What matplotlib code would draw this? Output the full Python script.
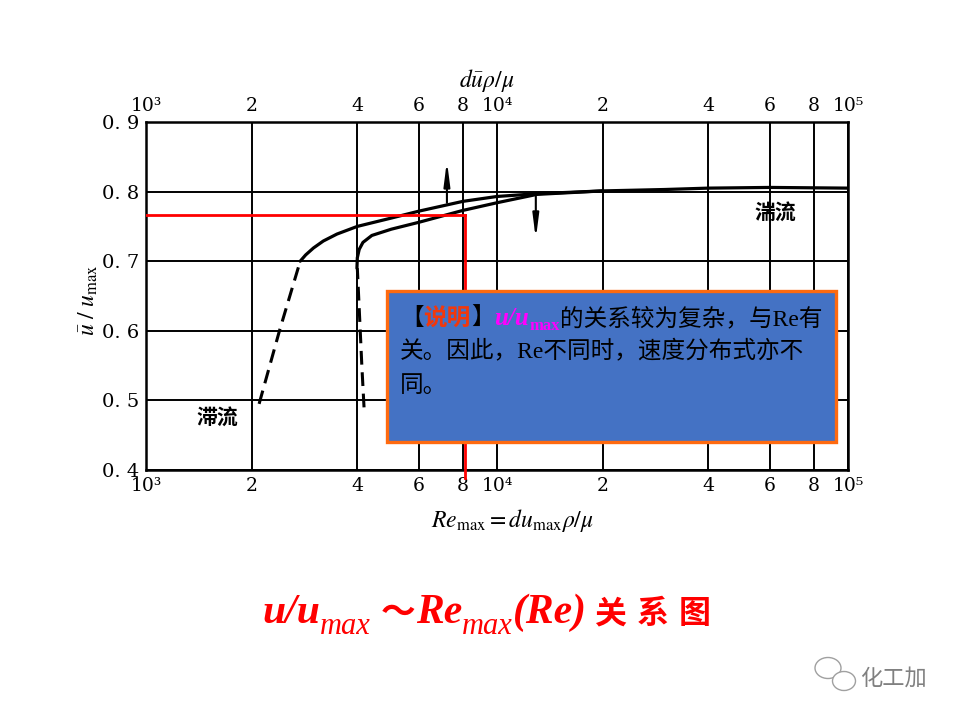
import matplotlib
matplotlib.use('Agg')
import matplotlib.pyplot as plt
from matplotlib.patches import Rectangle, Ellipse
from matplotlib.ticker import NullLocator

plt.rcParams['mathtext.fontset'] = 'stix'

# grid / tick data
re_grid = [1e3, 2e3, 4e3, 6e3, 8e3, 1e4, 2e4, 4e4, 6e4, 8e4, 1e5]
re_labels = ['10³', '2', '4', '6', '8', '10⁴', '2', '4', '6', '8', '10⁵']
u_grid = [0.4, 0.5, 0.6, 0.7, 0.8, 0.9]
u_labels = ['0. 4', '0. 5', '0. 6', '0. 7', '0. 8', '0. 9']

# left curve (dashed laminar part + solid part)
a_dash_re = [2.1e3, 2.4e3, 2.75e3]
a_dash_u = [0.495, 0.60, 0.70]
a_re = [2.75e3, 2.85e3, 3.0e3, 3.2e3, 3.5e3, 4e3, 5e3, 6e3, 8e3, 1e4, 1.3e4,
        2e4, 3e4, 4e4, 6e4, 1e5]
a_u = [0.700, 0.709, 0.719, 0.729, 0.739, 0.750, 0.762, 0.772, 0.786, 0.793,
       0.797, 0.801, 0.803, 0.805, 0.806, 0.805]

# right curve
b_dash_re = [4.18e3, 4.12e3, 4.06e3, 4.0e3]
b_dash_u = [0.49, 0.55, 0.62, 0.69]
b_re = [3.99e3, 4.0e3, 4.05e3, 4.15e3, 4.4e3, 5e3, 6e3, 8e3, 1e4, 1.3e4, 2e4]
b_u = [0.690, 0.705, 0.717, 0.727, 0.737, 0.746, 0.756, 0.773, 0.784, 0.796, 0.801]

# arrows: (x, y_start, y_end)
arrow_up = (7.2e3, 0.780, 0.848)
arrow_down = (1.29e4, 0.797, 0.728)

# red guide
red_re = 8.1e3
red_u = 0.766

W, H = 960, 720
fig = plt.figure(figsize=(9.6, 7.2), dpi=100)
ax = fig.add_axes([146 / W, 1 - 470 / H, 702 / W, 348 / H])
ax.set_xscale('log')
ax.set_xlim(1e3, 1e5)
ax.set_ylim(0.4, 0.9)

ax.set_xticks(re_grid)
ax.set_xticklabels(re_labels, fontfamily='DejaVu Serif', fontsize=13.5)
ax.xaxis.set_minor_locator(NullLocator())
ax.set_yticks(u_grid)
ax.set_yticklabels(u_labels, fontfamily='DejaVu Serif', fontsize=14)
ax.tick_params(axis='x', length=0, pad=5, top=True, labeltop=True)
ax.tick_params(axis='y', length=0, pad=5)
ax.grid(True, which='major', color='black', lw=1.4)
for s in ax.spines.values():
    s.set_linewidth(1.8)

ax.plot(a_dash_re, a_dash_u, color='black', lw=2.2, dashes=(4.5, 2.5))
ax.plot(a_re, a_u, color='black', lw=2.3, solid_capstyle='round')
ax.plot(b_dash_re, b_dash_u, color='black', lw=2.2, dashes=(4.5, 2.5))
ax.plot(b_re, b_u, color='black', lw=2.3, solid_capstyle='round')

for x, y0, y1 in [arrow_up, arrow_down]:
    ax.annotate('', xy=(x, y1), xytext=(x, y0),
                arrowprops=dict(arrowstyle='-|>,head_length=1.4,head_width=0.18',
                                color='black', lw=1.5))

ax.text(1.6e3, 0.476, '滞流', fontfamily='Noto Sans CJK SC', fontweight='bold',
        fontsize=15, ha='center', va='center')
ax.text(6.2e4, 0.770, '湍流', fontfamily='Noto Sans CJK SC', fontweight='bold',
        fontsize=15, ha='center', va='center')

ax.plot([1e3, red_re], [red_u, red_u], color='red', lw=2, zorder=4)
ax.plot([red_re, red_re], [red_u, 0.388], color='red', lw=2, zorder=4, clip_on=False)

# axis labels
fig.text(88 / W, 1 - 300 / H, r'$\bar{u}\ /\ u_{\rm max}$', rotation=90,
         ha='center', va='center', fontsize=17)
fig.text(487 / W, 1 - 80 / H, r'$d\bar{u}\rho/\mu$', ha='center', va='center',
         fontsize=17)
fig.text(512 / W, 1 - 520 / H, r'$Re_{\rm max}=du_{\rm max}\rho/\mu$',
         ha='center', va='center', fontsize=17)

# note box
box = Rectangle((387 / W, 1 - 442 / H), 449 / W, 151 / H, transform=fig.transFigure,
                facecolor='#4472C4', edgecolor='#FF6A0F', lw=2.4, zorder=5)
fig.add_artist(box)

renderer = fig.canvas.get_renderer()


def put_line(x0, y0, pieces):
    x = x0
    for s, dy, kw in pieces:
        t = fig.text(x / W, 1 - (y0 + dy) / H, s, ha='left', va='baseline',
                     zorder=6, **kw)
        x += t.get_window_extent(renderer).width
    return x


mix = ['Liberation Serif', 'Noto Sans CJK SC']
cjk = dict(family=mix, fontsize=17, color='black')
put_line(400, 325, [
    ('【', 0, cjk),
    ('说明', 0, dict(family='Noto Sans CJK SC', fontsize=17, color='#F2380C',
                   fontweight='bold')),
    ('】', 0, cjk),
    ('u/u', 0, dict(family='Liberation Serif', fontsize=18, color='#FF00FF',
                    fontweight='bold', style='italic')),
    ('max', 5, dict(family='Liberation Serif', fontsize=12, color='#FF00FF',
                    fontweight='bold')),
    ('的关系较为复杂，与Re有', 0, cjk),
])
put_line(400, 358, [('关。因此，Re不同时，速度分布式亦不', 0, cjk)])
put_line(400, 392, [('同。', 0, cjk)])

# title
ser = dict(family='Liberation Serif', fontsize=30, color='red', fontweight='bold',
           style='italic')
sub = dict(family='Liberation Serif', fontsize=22, color='red', style='italic')
han = dict(family='Noto Sans CJK SC', fontsize=23, color='red', fontweight='bold')
put_line(262, 623, [
    ('u/u', 0, ser),
    ('max', 11, sub),
    (' ', 0, ser),
    ('～', 0, dict(family='Noto Sans CJK SC', fontsize=25, color='red',
                  fontweight='bold')),
    ('Re', 0, ser),
    ('max', 11, sub),
    ('(Re)', 0, ser),
    (' ', 0, sub),
    ('关', 0, han),
    (' ', 0, ser),
    ('系', 0, han),
    (' ', 0, ser),
    ('图', 0, han),
])

# watermark
for cx, cy, ew, eh in [(828, 668, 26, 21), (844, 681, 23, 19)]:
    fig.add_artist(Ellipse((cx / W, 1 - cy / H), ew / W, eh / H,
                           transform=fig.transFigure, facecolor='white',
                           edgecolor='#a0a0a0', lw=1, zorder=5))
fig.text(893 / W, 1 - 678 / H, '化工加', family='Noto Sans CJK SC', fontsize=16,
         color='#808080', ha='center', va='center', fontweight='light')

fig.savefig('out.png', dpi=100)
